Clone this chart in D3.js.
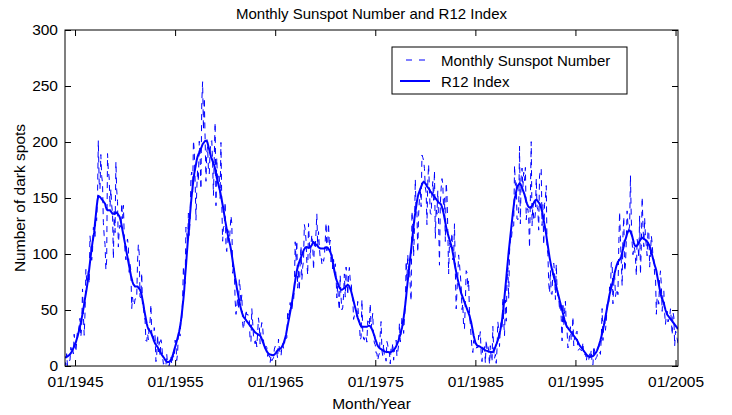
<!DOCTYPE html>
<meta charset="utf-8">
<script src="https://d3js.org/d3.v7.min.js"></script>
<style>
    body { margin: 0; background: #fff; }
    text { font-family: "Liberation Sans", Arial, sans-serif; fill: #000; }
</style>
<div id="chart"></div>
<script>

// first month of the series (Jan 1944), one value per month after it
const startYear = 1944;

// monthly sunspot number, one row per year
const monthly = [
    3.7, 0.5, 11.0, 0.3, 2.5, 5.0, 5.0, 16.7, 14.3, 16.9, 10.8, 28.4,          // 1944
    18.5, 12.7, 21.5, 32.0, 30.6, 36.2, 42.6, 25.9, 34.9, 68.8, 46.0, 27.4,    // 1945
    47.6, 86.2, 76.6, 75.7, 84.9, 73.5, 116.2, 107.2, 94.4, 102.3, 123.8, 121.7,
    115.7, 133.4, 129.8, 149.8, 201.3, 163.9, 157.9, 188.8, 169.4, 163.6, 128.0, 116.5,
    108.5, 86.1, 94.8, 189.7, 174.0, 167.8, 142.2, 157.9, 143.3, 136.3, 95.8, 138.0,
    119.1, 182.3, 157.5, 147.0, 106.2, 121.7, 125.8, 123.8, 145.3, 131.6, 143.5, 117.6,
    101.6, 94.8, 109.7, 113.4, 106.2, 83.6, 91.0, 85.2, 51.3, 61.4, 54.8, 54.1, // 1950
    59.9, 59.9, 59.9, 92.9, 108.5, 100.6, 61.5, 61.0, 83.1, 51.6, 52.4, 45.8,
    40.7, 22.7, 22.0, 29.1, 23.4, 36.4, 39.3, 54.9, 28.2, 23.8, 22.1, 34.3,
    26.5, 3.9, 10.0, 27.8, 12.5, 21.8, 8.6, 23.5, 19.3, 8.2, 1.6, 2.5,
    0.2, 0.5, 10.9, 1.8, 0.8, 0.2, 4.8, 8.4, 1.5, 7.0, 9.2, 7.6,
    23.1, 20.8, 4.9, 11.3, 28.9, 31.7, 26.7, 40.7, 42.7, 58.5, 89.2, 76.9,      // 1955
    73.6, 124.0, 118.4, 110.7, 136.6, 116.6, 129.1, 169.6, 173.2, 155.3, 201.3, 192.1,
    165.0, 130.2, 157.4, 175.2, 164.6, 200.7, 187.2, 158.0, 235.8, 253.8, 210.9, 239.4,
    202.5, 164.9, 190.7, 196.0, 175.3, 171.5, 191.4, 200.2, 201.2, 181.5, 152.3, 187.6,
    217.4, 143.1, 185.7, 163.3, 172.0, 168.7, 149.6, 199.6, 145.2, 111.4, 124.0, 125.0,
    146.3, 106.0, 102.2, 122.0, 119.6, 110.2, 121.7, 134.1, 127.2, 82.8, 89.6, 85.6, // 1960
    57.9, 46.1, 53.0, 61.4, 51.0, 77.4, 70.2, 55.9, 63.6, 37.7, 32.6, 40.0,
    38.7, 50.3, 45.6, 46.4, 43.7, 42.0, 21.8, 21.8, 51.3, 39.5, 26.9, 23.2,
    19.8, 24.4, 17.1, 29.3, 43.0, 35.9, 19.6, 33.2, 38.8, 35.3, 23.4, 14.9,
    15.3, 17.7, 16.5, 8.6, 9.5, 9.1, 3.1, 9.3, 4.7, 6.1, 7.4, 15.1,
    17.5, 14.2, 11.7, 6.8, 24.1, 15.9, 11.9, 8.9, 16.8, 20.1, 15.8, 17.0,       // 1965
    28.2, 24.4, 25.3, 48.7, 45.3, 47.7, 56.7, 51.2, 50.2, 57.2, 57.2, 70.4,
    110.9, 93.6, 111.8, 69.5, 86.5, 67.3, 91.5, 107.2, 76.8, 88.2, 94.3, 126.4,
    121.8, 111.9, 92.2, 81.2, 127.2, 110.3, 96.1, 109.3, 117.2, 107.7, 86.0, 109.8,
    104.4, 120.5, 135.8, 106.8, 120.0, 106.0, 96.8, 98.0, 91.3, 95.7, 93.5, 97.9,
    111.5, 127.8, 102.9, 109.5, 127.5, 106.8, 112.5, 93.0, 99.5, 86.6, 95.2, 83.5, // 1970
    91.3, 79.0, 60.7, 71.8, 57.5, 49.8, 81.0, 61.4, 50.2, 51.7, 63.2, 82.2,
    61.5, 88.4, 80.1, 63.2, 80.5, 88.0, 76.5, 76.8, 64.0, 61.3, 41.6, 45.3,
    43.4, 42.9, 46.0, 57.7, 42.4, 39.5, 23.1, 25.6, 59.3, 30.7, 23.9, 23.3,
    27.6, 26.0, 21.3, 40.3, 39.5, 36.0, 55.8, 33.6, 40.2, 47.1, 25.0, 20.5,
    18.9, 11.5, 11.5, 5.1, 9.0, 11.4, 28.2, 39.7, 13.9, 9.1, 19.4, 7.8,         // 1975
    8.1, 4.3, 21.9, 18.8, 12.4, 12.2, 1.9, 16.4, 13.5, 20.6, 5.2, 15.3,
    16.4, 23.1, 8.7, 12.9, 18.6, 38.5, 21.4, 30.1, 44.0, 43.8, 29.1, 43.2,
    51.9, 93.6, 76.5, 99.7, 82.7, 95.1, 70.4, 58.1, 138.2, 125.1, 97.9, 122.7,
    166.6, 137.5, 138.0, 101.5, 134.4, 149.5, 159.4, 142.2, 188.4, 186.2, 183.3, 176.3,
    159.6, 155.0, 126.2, 164.1, 179.9, 157.3, 136.3, 135.4, 155.0, 164.7, 147.9, 174.4, // 1980
    114.0, 141.3, 135.5, 156.4, 127.5, 90.0, 143.8, 158.7, 167.3, 162.4, 137.5, 150.1,
    111.2, 163.6, 153.8, 122.0, 82.2, 110.4, 106.1, 107.6, 118.8, 94.7, 98.1, 127.0,
    84.3, 51.0, 66.5, 80.7, 99.2, 91.1, 82.2, 71.8, 50.3, 55.8, 33.3, 33.4,
    57.0, 85.1, 83.5, 69.7, 76.4, 46.1, 37.4, 25.5, 15.7, 12.0, 22.8, 18.7,
    16.5, 15.9, 17.2, 16.2, 27.5, 24.2, 30.7, 11.1, 3.9, 18.6, 16.2, 17.3,      // 1985
    2.5, 23.2, 15.1, 18.5, 13.7, 1.1, 18.1, 7.4, 3.8, 35.4, 15.2, 6.8,
    10.4, 2.4, 14.7, 39.6, 33.0, 17.4, 33.9, 38.7, 33.9, 60.6, 39.9, 27.1,
    59.0, 40.0, 76.2, 88.0, 60.1, 101.8, 113.8, 111.6, 120.1, 125.1, 125.1, 179.2,
    161.3, 165.1, 131.4, 130.6, 138.5, 196.2, 126.9, 168.9, 176.7, 159.4, 173.0, 165.5,
    177.3, 130.5, 140.3, 140.3, 132.2, 105.4, 149.4, 200.3, 125.2, 145.5, 131.4, 129.7, // 1990
    136.9, 167.5, 141.9, 140.0, 121.3, 169.7, 173.7, 176.3, 125.3, 144.1, 108.2, 144.4,
    150.0, 161.1, 106.7, 99.8, 73.8, 65.2, 85.7, 64.5, 63.9, 88.7, 91.8, 82.6,
    59.3, 91.0, 69.8, 62.2, 61.3, 49.8, 57.9, 42.2, 22.4, 56.4, 35.6, 48.9,
    57.8, 35.5, 31.7, 16.1, 17.8, 28.0, 35.1, 22.5, 25.7, 44.0, 18.0, 26.2,
    24.2, 29.9, 31.1, 14.0, 14.5, 15.6, 14.5, 14.3, 11.8, 21.1, 9.0, 10.0,      // 1995
    11.5, 4.4, 9.2, 4.8, 5.5, 11.8, 8.2, 14.4, 1.6, 0.9, 17.9, 13.3,
    5.7, 7.6, 8.7, 15.5, 18.5, 12.7, 10.4, 24.4, 51.3, 22.8, 39.0, 41.2,
    31.9, 40.3, 54.8, 53.4, 56.3, 70.7, 66.6, 92.2, 92.9, 55.5, 74.0, 81.9,
    62.0, 66.3, 68.8, 63.7, 106.4, 137.7, 113.5, 93.7, 71.5, 116.7, 133.2, 84.6,
    90.1, 112.9, 138.5, 125.5, 121.6, 124.9, 170.1, 130.5, 109.7, 99.4, 106.8, 104.4, // 2000
    95.6, 80.6, 113.5, 107.7, 96.6, 134.0, 81.8, 106.4, 150.7, 125.5, 106.5, 132.2,
    114.1, 107.4, 98.4, 120.7, 120.8, 88.3, 99.6, 116.4, 109.6, 97.5, 95.0, 81.6,
    79.5, 46.2, 61.5, 60.0, 55.2, 77.4, 85.0, 72.7, 48.8, 65.5, 67.3, 47.0,
    37.2, 46.0, 48.9, 39.3, 41.5, 43.2, 51.1, 40.9, 27.7, 48.0, 43.5, 17.9,
    31.3, 29.2, 24.5, 20.4                                                     // 2005 (Jan-Apr)
];

// R12 index (smoothed), same months
const r12 = [
    8.0, 7.7, 8.1, 8.6, 9.2, 9.8, 10.5, 11.5, 12.8, 14.3, 16.0, 17.6,
    19.3, 21.3, 23.6, 26.2, 29.0, 32.0, 35.3, 38.6, 42.5, 46.5, 50.8, 55.4,
    60.3, 64.6, 68.9, 74.0, 80.0, 86.0, 92.5, 99.0, 105.0, 110.3, 115.0, 119.3,
    128, 135, 142, 148, 151.8, 151.5, 151, 150, 149, 148, 147, 146,
    145, 142, 140, 139, 139, 139, 139, 138, 137, 136, 136, 136,
    136, 137, 137, 136, 135, 134, 132, 129, 125, 121, 117, 113,
    109, 105, 101, 97, 93, 89, 85, 81, 78, 75, 73, 72,
    71, 71, 71, 71, 70, 69, 68, 66, 63, 59, 55, 50,
    46, 42, 38, 35, 33, 32, 31, 30, 28, 26, 24, 22,
    20, 19, 18, 17, 15.5, 14, 13, 11.5, 10, 9, 8, 7,
    5.5, 4.5, 3.8, 3.4, 3.5, 3.9, 4.5, 5.5, 7, 9, 11.5, 14.5,
    17, 19.5, 22, 25, 28, 31, 35, 40, 46, 53, 60, 68,
    80, 89, 99, 109, 118, 127, 136, 145, 153, 160, 166, 172,
    176, 180, 184, 187, 189, 190, 192, 194, 196, 198, 199, 200,
    201, 201, 201.3, 199, 196, 193, 190, 187, 185, 183, 181, 179,
    176, 172, 168, 165, 162, 159, 156, 152, 148, 144, 140, 135,
    130, 126, 122, 118, 114, 111, 108, 104, 99, 94, 89, 84,
    79, 75, 70, 66, 62, 58, 54, 51, 48, 46, 44, 43,
    42, 41, 40, 39, 38, 37, 36, 35, 34, 33, 32, 31,
    30, 29.5, 29, 28.5, 28, 27.5, 27, 26, 24, 22, 20, 18,
    16, 14.5, 13, 12, 11, 10.5, 10.2, 10, 9.8, 9.6, 9.8, 10.2,
    11, 12, 13, 14, 14.5, 15, 15.5, 16, 17, 18.5, 20, 22.5,
    25, 28, 32, 36, 40, 44, 48, 52, 56, 61, 66, 71,
    76, 81, 85, 88, 91, 93, 95, 97, 99, 101, 103, 104.5,
    105.5, 106, 106, 106, 105.5, 105.5, 106, 107, 108, 109.5, 110.6, 110,
    109, 108.5, 108, 107, 106, 105.5, 105, 105, 105, 105, 105, 105,
    105.5, 106, 106, 105.5, 104.5, 103.5, 102, 100, 97, 93, 89, 85,
    81, 78, 76, 74, 72, 70, 69, 68, 68, 68.5, 69, 69.5,
    70, 71, 72, 72.5, 72, 71, 69, 67, 64, 61, 58, 55,
    52, 49, 46, 43, 41, 39, 37, 35.5, 35, 35, 35, 35,
    35, 35, 35, 35.5, 36, 36, 35.5, 34.5, 33, 31, 29, 27,
    24, 22, 20, 18, 17, 16, 15.5, 15, 14.5, 14, 13.5, 13,
    12.8, 12.6, 12.5, 12.4, 12.3, 12.2, 12.3, 12.6, 13, 13.5, 14.2, 15,
    16, 17.5, 19, 21, 23, 25.5, 28, 31, 34, 38, 43, 49,
    55, 62, 69, 76, 83, 90, 97, 104, 111, 118, 125, 132,
    137, 142, 147, 151, 154, 156, 158, 160, 162, 163.5, 164.5, 164,
    163, 162, 160.5, 159.5, 158.5, 157.5, 156, 155, 154, 153, 152, 151,
    150, 149, 148, 147, 146, 145.5, 145, 144, 142, 139, 136, 132,
    128, 124, 121, 118, 115.5, 113, 110.5, 108, 105, 101, 97, 92,
    88, 84, 80, 77, 74, 71, 68, 65, 63, 61, 59, 57,
    55, 53, 51, 49, 47, 45, 42, 39, 35, 31, 27, 24,
    21, 19.5, 18.5, 18, 17.8, 17.5, 17.2, 16.5, 16, 15.5, 15, 14.5,
    14, 13.7, 13.5, 13.2, 13, 12.8, 12.5, 12.4, 12.3, 12.5, 13.5, 15,
    17, 19, 21, 23, 26, 29, 32, 36, 41, 47, 54, 62,
    70, 78, 86, 94, 102, 109, 116, 123, 130, 137, 143, 149,
    152, 156, 159, 161, 162, 163, 162.5, 161, 159, 157, 155, 153,
    150, 147, 145, 143, 142, 141.5, 141.5, 142, 143, 144, 145.5, 147,
    148, 148.5, 148, 147, 146, 145, 143, 141, 138, 134, 130, 126,
    122, 117, 112, 107, 102, 97, 93, 89, 86, 83, 80, 77,
    74, 71, 68, 65, 62, 59, 56, 53, 50, 47, 44, 41,
    38.5, 36.5, 35, 34, 33, 32, 31, 30, 29, 28, 27, 26,
    25, 24, 23, 21.5, 20, 18.5, 17.5, 16.5, 15.5, 14.5, 13.5, 12.5,
    11.5, 10.5, 9.6, 9, 8.5, 8, 8.3, 8.6, 8.7, 8.8, 9.6, 10.5,
    11.5, 12.5, 14, 16, 18, 20.5, 23, 26, 29, 32.5, 36, 40,
    44, 48, 52, 56, 60, 64, 67, 70, 73, 76, 79, 83,
    86, 89, 91, 93, 94, 95, 96, 98, 101, 104, 107, 111,
    113, 115.5, 118, 120, 121, 121, 120, 118, 116, 113, 110, 108,
    107, 107, 107.5, 108.5, 110, 111.5, 113, 114, 114.5, 114, 113.5, 113,
    112.5, 112, 111, 110, 108.5, 107, 105, 102, 99, 96, 93, 90,
    88, 85, 81, 77, 73, 69, 65, 62, 60, 58, 56, 53,
    50, 48, 46, 45, 44, 43, 42, 41, 40, 39, 38, 37,
    36, 35, 34, 33
];

const yTicks = [0, 50, 100, 150, 200, 250, 300];
const xTickYears = [1945, 1955, 1965, 1975, 1985, 1995, 2005];
const seriesNames = ["Monthly Sunspot Number", "R12 Index"];

const W = 732, H = 415;
const margin = {top: 30, right: 54, bottom: 49, left: 65};
const width = W - margin.left - margin.right,
      height = H - margin.top - margin.bottom;

const months = monthly.map((d, i) => new Date(startYear, i, 1));
const rows = months.map((m, i) => ({date: m, sn: monthly[i], r12: r12[i]}));

const svg = d3.select("#chart").append("svg")
    .attr("width", W).attr("height", H);

const g = svg.append("g")
    .attr("transform", `translate(${margin.left},${margin.top})`);

const x = d3.scaleTime()
    .domain(d3.extent(months))
    .range([0, width]);

const y = d3.scaleLinear()
    .domain([0, 300])
    .range([height, 0]);

const xTickDates = xTickYears.map(yr => new Date(yr, 0, 1));
const fmt = d3.timeFormat("%m/%Y");

// clip so nothing leaks outside the box
g.append("clipPath").attr("id", "clip")
  .append("rect").attr("width", width).attr("height", height);

const plot = g.append("g").attr("clip-path", "url(#clip)");

const lineSn = d3.line().x(d => x(d.date)).y(d => y(d.sn));
const lineR12 = d3.line().x(d => x(d.date)).y(d => y(d.r12));

plot.append("path")
    .datum(rows)
    .attr("d", lineSn)
    .style("fill", "none")
    .style("stroke", "#0000ff")
    .style("stroke-width", 1)
    .style("stroke-dasharray", "6,5");

plot.append("path")
    .datum(rows)
    .attr("d", lineR12)
    .style("fill", "none")
    .style("stroke", "#0000ff")
    .style("stroke-width", 2);

// axes, matlab style: ticks inside, on all four sides
const tl = 6;
g.append("g")
    .attr("transform", `translate(0,${height})`)
    .call(d3.axisBottom(x).tickValues(xTickDates).tickFormat(fmt).tickSizeInner(-tl).tickSizeOuter(0).tickPadding(10))
    .call(a => a.select(".domain").remove());
g.append("g")
    .call(d3.axisTop(x).tickValues(xTickDates).tickFormat("").tickSizeInner(-tl).tickSizeOuter(0))
    .call(a => a.select(".domain").remove());
g.append("g")
    .call(d3.axisLeft(y).tickValues(yTicks).tickSizeInner(-tl).tickSizeOuter(0).tickPadding(7))
    .call(a => a.select(".domain").remove());
g.append("g")
    .attr("transform", `translate(${width},0)`)
    .call(d3.axisRight(y).tickValues(yTicks).tickFormat("").tickSizeInner(-tl).tickSizeOuter(0))
    .call(a => a.select(".domain").remove());

g.selectAll(".tick text")
    .style("font-family", "'Liberation Sans', Arial, sans-serif")
    .style("font-size", "15.5px")
    .style("fill", "#000");
g.selectAll(".tick line").style("stroke", "#000");

g.append("rect")
    .attr("width", width).attr("height", height)
    .style("fill", "none").style("stroke", "#000").style("stroke-width", 1);

// titles
svg.append("text")
    .attr("x", margin.left + width / 2).attr("y", 19)
    .attr("text-anchor", "middle")
    .style("font-size", "15px")
    .text("Monthly Sunspot Number and R12 Index");

svg.append("text")
    .attr("x", margin.left + width / 2).attr("y", 409)
    .attr("text-anchor", "middle")
    .style("font-size", "15.5px")
    .text("Month/Year");

svg.append("text")
    .attr("transform", `translate(25,${margin.top + height / 2}) rotate(-90)`)
    .attr("text-anchor", "middle")
    .style("font-size", "15.5px")
    .text("Number of dark spots");

// legend
const leg = svg.append("g").attr("transform", "translate(392,47)");
leg.append("rect")
    .attr("width", 235).attr("height", 47)
    .style("fill", "#fff").style("stroke", "#000").style("stroke-width", 1);

leg.selectAll("line.key")
    .data(seriesNames)
    .join("line")
    .attr("class", "key")
    .attr("x1", 8).attr("x2", 38)
    .attr("y1", (d, i) => 13 + i * 21).attr("y2", (d, i) => 13 + i * 21)
    .style("stroke", "#0000ff")
    .style("stroke-width", (d, i) => i === 0 ? 1 : 2)
    .style("stroke-dasharray", (d, i) => i === 0 ? "6,7" : null)
    .style("stroke-dashoffset", -6);

leg.selectAll("text.key")
    .data(seriesNames)
    .join("text")
    .attr("class", "key")
    .attr("x", 49)
    .attr("y", (d, i) => 18.5 + i * 21)
    .style("font-size", "15px")
    .text(d => d);

</script>
